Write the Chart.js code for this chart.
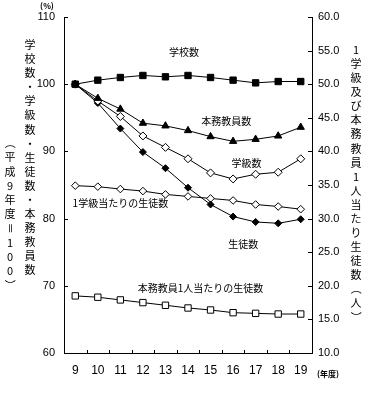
<!DOCTYPE html>
<html><head><meta charset="utf-8">
<script src="https://cdn.jsdelivr.net/npm/chart.js@4/dist/chart.umd.min.js"></script>
<style>html,body{margin:0;padding:0;background:#fff}#wrap{width:376px;height:395px;position:relative}</style>
</head><body><div id="wrap"><canvas id="c" width="376" height="395"></canvas></div>
<script>
// categories (年度)
const years = ['9','10','11','12','13','14','15','16','17','18','19'];
// left axis (平成9年度=100)
const schools  = [100, 100.6, 101.0, 101.3, 101.1, 101.3, 101.0, 100.6, 100.2, 100.4, 100.4];
const teachers = [100, 97.9, 96.3, 94.2, 93.8, 93.1, 92.2, 91.5, 91.8, 92.3, 93.6];
const classes  = [100, 97.5, 95.2, 92.3, 90.6, 88.9, 86.8, 85.9, 86.6, 86.9, 88.9];
const students = [100, 97.2, 93.4, 89.9, 87.5, 84.6, 82.1, 80.3, 79.5, 79.3, 79.9];
// right axis (人)
const perClass   = [34.9, 34.75, 34.4, 34.1, 33.6, 33.3, 33.0, 32.7, 32.1, 31.8, 31.4];
const perTeacher = [18.5, 18.3, 17.9, 17.5, 17.1, 16.7, 16.4, 16.0, 15.9, 15.8, 15.8];

const leftTitle1 = '学校数・学級数・生徒数・本務教員数';
const leftTitle2 = '（平成9年度＝100）';
const rightTitle = '1学級及び本務教員1人当たり生徒数（人）';

const seriesLabels = [
  {text:'学校数', i:4.82, v:104.8},
  {text:'本務教員数', i:6.7, v:94.5},
  {text:'学級数', i:7.6, v:88.3},
  {text:'1学級当たりの生徒数', i:2.0, v:82.3},
  {text:'生徒数', i:7.45, v:76.2},
  {text:'本務教員1人当たりの生徒数', i:5.55, v:69.7}
];

const JP = '"Noto Sans CJK JP", sans-serif';

function drawVertical(ctx, text, x, y0, step){
  const chars = Array.from(text);
  chars.forEach((ch, k) => {
    const y = y0 + k*step;
    ctx.save();
    ctx.translate(x, y);
    if ('（）＝'.includes(ch)) ctx.rotate(Math.PI/2);
    ctx.fillText(ch, 0, 0);
    ctx.restore();
  });
}

const deco = {
  id: 'deco',
  afterDraw(chart){
    const {ctx, chartArea:a, scales:{x, y, y1}} = chart;
    ctx.save();
    ctx.strokeStyle = '#000'; ctx.lineWidth = 1;
    ctx.beginPath();
    y.ticks.forEach(t => { const py = Math.round(y.getPixelForValue(t.value)) + 0.5; ctx.moveTo(a.left, py); ctx.lineTo(a.left + 4, py); });
    y1.ticks.forEach(t => { const py = Math.round(y1.getPixelForValue(t.value)) + 0.5; ctx.moveTo(a.right, py); ctx.lineTo(a.right - 4, py); });
    for (let k = 1; k < years.length; k++) {
      const px = Math.round(x.getPixelForValue(k - 0.5)) + 0.5;
      ctx.moveTo(px, a.bottom); ctx.lineTo(px, a.bottom - 3);
    }
    ctx.stroke();

    ctx.fillStyle = '#000';
    ctx.textAlign = 'center'; ctx.textBaseline = 'middle';
    ctx.font = '10px ' + JP;
    seriesLabels.forEach(l => {
      ctx.fillText(l.text, x.getPixelForValue(l.i), y.getPixelForValue(l.v));
    });

    ctx.font = '11px ' + JP;
    drawVertical(ctx, leftTitle1, 30, 45, 14.06);
    drawVertical(ctx, leftTitle2, 10, 143, 14.2);
    drawVertical(ctx, rightTitle, 356, 50, 14.05);

    ctx.font = 'bold 8px ' + JP;
    ctx.fillText('(%)', 47, 6);
    ctx.fillText('(年度)', 328, 374);
    ctx.restore();
  }
};

const common = {borderColor:'#000', borderWidth:1, pointBorderColor:'#000', pointBorderWidth:1, tension:0, fill:false};

new Chart(document.getElementById('c'), {
  type: 'line',
  data: {
    labels: years,
    datasets: [
      {...common, label:'学校数', data:schools, yAxisID:'y', pointStyle:'rect', pointRadius:4.5, pointBackgroundColor:'#000'},
      {...common, label:'本務教員数', data:teachers, yAxisID:'y', pointStyle:'triangle', pointRadius:4.2, pointBackgroundColor:'#000'},
      {...common, label:'学級数', data:classes, yAxisID:'y', pointStyle:'rectRot', pointRadius:4, pointBackgroundColor:'#fff'},
      {...common, label:'生徒数', data:students, yAxisID:'y', pointStyle:'rectRot', pointRadius:3.5, pointBackgroundColor:'#000'},
      {...common, label:'1学級当たりの生徒数', data:perClass, yAxisID:'y1', pointStyle:'rectRot', pointRadius:3.8, pointBackgroundColor:'#fff'},
      {...common, label:'本務教員1人当たりの生徒数', data:perTeacher, yAxisID:'y1', pointStyle:'rect', pointRadius:4.5, pointBackgroundColor:'#fff'}
    ]
  },
  options: {
    responsive: false,
    animation: false,
    devicePixelRatio: 1,
    layout: {padding: {top: 17, left: 0, right: 0, bottom: 0}},
    plugins: {legend: {display:false}, tooltip: {enabled:false}},
    scales: {
      x: {
        offset: true,
        grid: {display:false, drawTicks:false},
        border: {display:true, color:'#000', width:1},
        ticks: {color:'#000', font:{family:'"Liberation Sans", Arial, sans-serif', size:12}, padding:10, maxRotation:0, autoSkip:false},
        afterFit: s => { s.height = 42; }
      },
      y: {
        position:'left', min:60, max:110,
        grid: {display:false, drawTicks:false},
        border: {display:true, color:'#000', width:1},
        ticks: {stepSize:10, color:'#000', font:{family:'"Liberation Sans", Arial, sans-serif', size:11}, padding:9},
        afterFit: s => { s.width = 64; }
      },
      y1: {
        position:'right', min:10, max:60,
        grid: {display:false, drawTicks:false},
        border: {display:true, color:'#000', width:1},
        ticks: {stepSize:5, color:'#000', font:{family:'"Liberation Sans", Arial, sans-serif', size:11}, padding:6, callback: v => Number(v).toFixed(1)},
        afterFit: s => { s.width = 64; }
      }
    }
  },
  plugins: [deco]
});
</script>
</body></html>
